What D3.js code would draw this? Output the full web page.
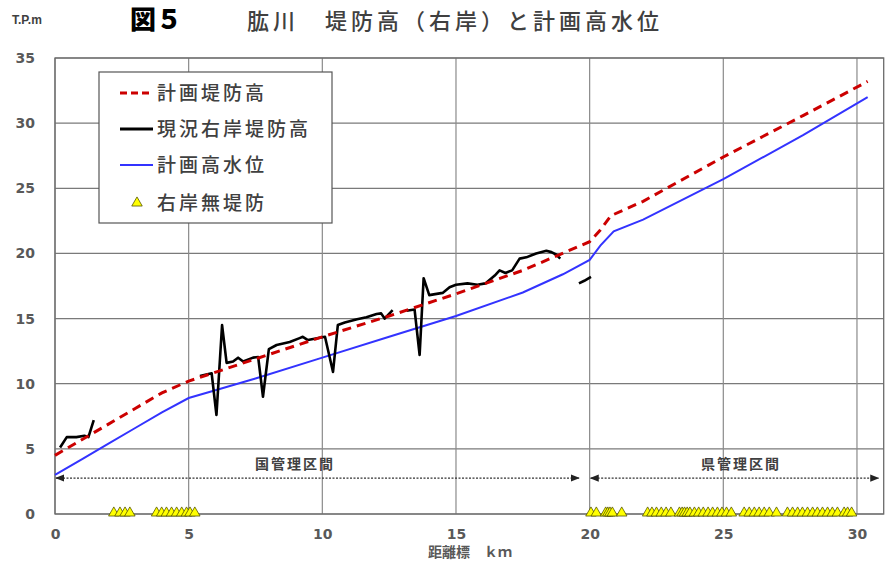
<!DOCTYPE html>
<html><head><meta charset="utf-8">
<script src="https://cdn.jsdelivr.net/npm/d3@7"></script>
<style>
body{margin:0;background:#fff;}
svg{display:block;font-family:"DejaVu Sans","Noto Sans CJK JP",sans-serif;}
</style></head>
<body><svg id="c" width="895" height="563"></svg>
<script>
// ---- data ----
const xTicks = [0,5,10,15,20,25,30];
const yTicks = [0,5,10,15,20,25,30,35];
// 計画堤防高
const planLeveeKm  = [0, 1, 2, 3, 4, 5, 7.5, 10, 12.5, 15, 17.5, 20, 20.4, 20.8, 22, 25, 28, 30.4];
const planLeveeVal = [4.5, 5.7, 6.9, 8.1, 9.3, 10.2, 11.9, 13.6, 15.2, 16.9, 18.7, 20.9, 21.8, 22.9, 24.0, 27.4, 30.6, 33.2];
// 計画高水位
const planHWLKm  = [0, 1, 2, 3, 4, 5, 6, 7.5, 10, 12.5, 15, 17.5, 19, 20, 20.4, 20.9, 22, 25, 28, 30.4];
const planHWLVal = [3.0, 4.2, 5.4, 6.6, 7.8, 8.9, 9.5, 10.4, 12.0, 13.6, 15.2, 17.0, 18.4, 19.5, 20.6, 21.7, 22.6, 25.7, 29.1, 32.0];
// 現況右岸堤防高 (segments)
const currentSeg1 = [[0.19,5.1],[0.44,5.9],[0.8,5.9],[1.1,6.0],[1.25,5.9],[1.45,7.2]];
const currentSeg2 = [[5.42,10.6],[5.86,10.8],[6.04,7.6],[6.25,14.5],[6.42,11.6],[6.66,11.7],[6.85,12.0],[7.04,11.7],[7.41,12.0],[7.6,12.05],[7.78,9.0],[8.0,12.65],[8.29,12.97],[8.78,13.2],[9.15,13.5],[9.27,13.6],[9.46,13.35],[10.1,13.6],[10.4,10.9],[10.58,14.5],[10.84,14.7],[11.3,14.95],[11.65,15.1],[12.03,15.35],[12.2,15.4],[12.33,15.0],[12.63,15.65]];
const currentSeg3 = [[13.15,15.6],[13.45,15.7],[13.64,12.2],[13.79,18.1],[14.0,16.8],[14.5,16.97],[14.76,17.4],[15.0,17.6],[15.43,17.7],[15.8,17.6],[16.1,17.7],[16.45,18.3],[16.63,18.7],[16.85,18.5],[17.1,18.7],[17.38,19.6],[17.63,19.7],[18.0,20.0],[18.38,20.2],[18.57,20.1],[18.76,19.9],[18.9,19.6]];
const currentSeg4 = [[19.6,17.7],[19.8,17.9],[20.05,18.2]];
// 右岸無堤防
const noLeveeKm = [2.2,2.43,2.62,2.8, 3.8,3.99,4.17,4.36,4.55,4.74,4.92,5.05,5.23,
  20.05,20.25,20.6,20.68,20.76,20.85,21.2,
  22.17,22.33,22.5,22.68,22.86,23.04,
  23.36,23.46,23.55,23.65,23.75,23.92,24.08,24.25,24.43,24.6,24.78,24.95,25.12,25.3,
  25.78,25.97,26.16,26.34,26.53,26.72,26.99,
  27.4,27.59,27.78,27.96,28.15,28.34,28.52,28.71,28.9,29.08,29.27,29.52,29.65,29.8];
const sections = [{label:"国管理区間", from:0, to:19.6},{label:"県管理区間", from:20, to:30.8}];
const legendItems = ["計画堤防高","現況右岸堤防高","計画高水位","右岸無堤防"];

// ---- chart ----
const svg = d3.select("#c");
const x = d3.scaleLinear().domain([0,31]).range([55,883.7]);
const y = d3.scaleLinear().domain([0,35]).range([514,58]);

// grid
const g = svg.append("g");
g.selectAll(".hg").data(yTicks).join("line")
  .attr("x1",x(0)).attr("x2",x(31)).attr("y1",d=>y(d)).attr("y2",d=>y(d))
  .attr("stroke","#7a7a7a").attr("stroke-width",1.2);
g.selectAll(".vg").data(xTicks).join("line")
  .attr("y1",y(0)).attr("y2",y(35)).attr("x1",d=>x(d)).attr("x2",d=>x(d))
  .attr("stroke","#8a8a8a").attr("stroke-width",1.2);
g.append("rect").attr("x",x(0)).attr("y",y(35)).attr("width",x(31)-x(0)).attr("height",y(0)-y(35))
  .attr("fill","none").attr("stroke","#6a6a6a").attr("stroke-width",1.3);

// axes labels
const yAxis = d3.axisLeft(y).tickValues(yTicks).tickSize(0).tickPadding(20);
svg.append("g").attr("transform",`translate(${x(0)},0)`).call(yAxis)
  .call(s=>s.select(".domain").remove())
  .call(s=>s.selectAll("text").attr("fill","#595959").attr("font-size",14).attr("font-weight","bold").attr("font-family","DejaVu Sans"));
const xAxis = d3.axisBottom(x).tickValues(xTicks).tickSize(0).tickPadding(15);
svg.append("g").attr("transform",`translate(0,${y(0)})`).call(xAxis)
  .call(s=>s.select(".domain").remove())
  .call(s=>s.selectAll("text").attr("fill","#595959").attr("font-size",14).attr("font-weight","bold").attr("font-family","DejaVu Sans"));

svg.append("text").attr("x",470).attr("y",557).attr("text-anchor","middle")
  .attr("fill","#595959").attr("font-size",14).attr("font-weight","bold")
  .attr("font-family","Noto Sans CJK JP").text("距離標　ｋｍ");

// titles
svg.append("text").attr("x",12).attr("y",24).attr("fill","#404040").attr("font-size",12)
  .attr("font-weight","bold").attr("font-family","Liberation Sans Narrow, Liberation Sans").text("T.P.m");
svg.append("text").attr("x",130).attr("y",29).attr("fill","#000").attr("font-size",26)
  .attr("font-weight","900").attr("font-family","Noto Sans CJK JP").text("図５");
svg.append("text").attr("x",247).attr("y",29).attr("fill","#404040").attr("font-size",22)
  .attr("letter-spacing",4)
  .attr("font-family","Noto Sans CJK JP").attr("font-weight","500").text("肱川　堤防高（右岸）と計画高水位");

// section annotations
const defs = svg.append("defs");
defs.append("marker").attr("id","ah").attr("viewBox","0 0 10 10").attr("refX",9).attr("refY",5)
  .attr("markerWidth",9).attr("markerHeight",9).attr("markerUnits","userSpaceOnUse").attr("orient","auto-start-reverse")
  .append("path").attr("d","M0,1 L10,5 L0,9 Z").attr("fill","#222");
sections.forEach(s=>{
  svg.append("line").attr("x1",x(s.from)+1).attr("x2",x(s.to)).attr("y1",y(2.76)).attr("y2",y(2.76))
    .attr("stroke","#333").attr("stroke-width",1.3).attr("stroke-dasharray","2,1.5")
    .attr("marker-start","url(#ah)").attr("marker-end","url(#ah)");
  svg.append("text").attr("x",s.from===0?295:741).attr("y",469).attr("text-anchor","middle")
    .attr("fill","#404040").attr("font-size",14).attr("letter-spacing",2).attr("font-weight","bold")
    .attr("font-family","Noto Sans CJK JP").text(s.label);
});

// lines
const line = d3.line().x(d=>x(d[0])).y(d=>y(d[1]));
const planLevee = planLeveeKm.map((k,i)=>[k,planLeveeVal[i]]);
const planHWL = planHWLKm.map((k,i)=>[k,planHWLVal[i]]);
svg.append("path").datum(planHWL).attr("d",line).attr("fill","none").attr("stroke","#3333ff").attr("stroke-width",2);
[currentSeg1,currentSeg2,currentSeg3,currentSeg4].forEach(seg=>{
  svg.append("path").datum(seg).attr("d",line).attr("fill","none").attr("stroke","#000")
    .attr("stroke-width",2.6).attr("stroke-linejoin","round");
});
svg.append("path").datum(planLevee).attr("d",line).attr("fill","none").attr("stroke","#cc0000")
  .attr("stroke-width",3).attr("stroke-dasharray","9,6");

// triangles
const tri = d3.symbol().type(d3.symbolTriangle).size(48);
svg.selectAll(".tri").data(noLeveeKm).join("path")
  .attr("d",tri).attr("transform",d=>`translate(${x(d)},${y(0)-1})`)
  .attr("fill","#ffff00").attr("stroke","#555500").attr("stroke-width",0.8);

// legend
const lg = svg.append("g");
lg.append("rect").attr("x",99).attr("y",72).attr("width",233).attr("height",151)
  .attr("fill","#fff").attr("stroke","#555").attr("stroke-width",1.2);
const rowsY = [93,129,165,203];
lg.append("line").attr("x1",120).attr("x2",153).attr("y1",rowsY[0]).attr("y2",rowsY[0])
  .attr("stroke","#cc0000").attr("stroke-width",3).attr("stroke-dasharray","7,4");
lg.append("line").attr("x1",120).attr("x2",153).attr("y1",rowsY[1]).attr("y2",rowsY[1])
  .attr("stroke","#000").attr("stroke-width",3);
lg.append("line").attr("x1",120).attr("x2",153).attr("y1",rowsY[2]).attr("y2",rowsY[2])
  .attr("stroke","#3333ff").attr("stroke-width",2);
lg.append("path").attr("d",tri).attr("transform",`translate(137,${rowsY[3]})`)
  .attr("fill","#ffff00").attr("stroke","#555500").attr("stroke-width",0.8);
lg.selectAll(".lt").data(legendItems).join("text")
  .attr("x",157).attr("y",(d,i)=>rowsY[i]+7).attr("fill","#404040").attr("font-size",19)
  .attr("letter-spacing",3)
  .attr("font-weight","500").attr("font-family","Noto Sans CJK JP").text(d=>d);
</script></body></html>
